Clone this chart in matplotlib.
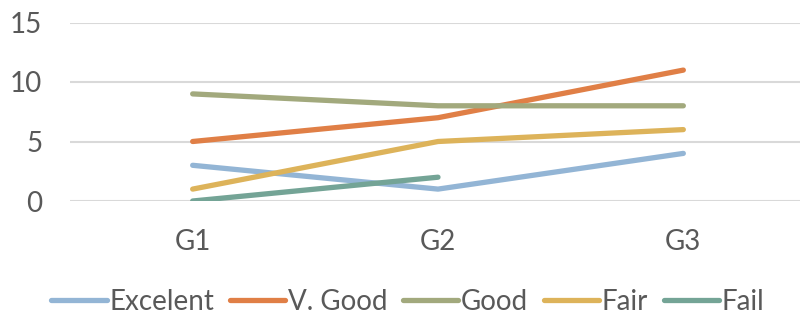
import matplotlib.pyplot as plt
import numpy as np

# Data
categories = ['G1', 'G2', 'G3']
excelent = [3, 1, 4]
v_good = [5, 7, 11]
good = [9, 8, 8]
fair = [1, 5, 6]
fail = [0, 2]

series = [
    ('Excelent', excelent, '#93B5D5'),
    ('V. Good', v_good, '#E07F46'),
    ('Good', good, '#A2A97D'),
    ('Fair', fair, '#DDB35A'),
    ('Fail', fail, '#74A496'),
]

plt.rcParams['font.family'] = ['Lato', 'DejaVu Sans']

fig = plt.figure(figsize=(8, 3.18), dpi=100)
ax = fig.add_axes([70 / 800, 117 / 318, 736 / 800, 178.5 / 318])

x = np.arange(len(categories))
for name, vals, color in series:
    ax.plot(x[:len(vals)], vals, color=color, linewidth=3.8,
            solid_capstyle='round', label=name)

ax.set_xlim(-0.5, 2.5)
ax.set_ylim(0, 15)
ax.set_yticks([0, 5, 10, 15])
ax.set_xticks(x)
ax.set_xticklabels(categories)
ax.yaxis.grid(True, color='#D9D9D9', linewidth=1.5)
ax.set_axisbelow(True)
for s in ax.spines.values():
    s.set_visible(False)
ax.tick_params(axis='both', length=0, labelsize=20, labelcolor='#595959')
ax.tick_params(axis='x', pad=20)
ax.tick_params(axis='y', pad=20)

fig.legend(loc='center', bbox_to_anchor=(0.51, 0.05), ncol=5, frameon=False,
           fontsize=20, labelcolor='#595959', handlelength=2.0,
           handletextpad=0.1, columnspacing=0.55)

fig.savefig('out.png', dpi=100)
